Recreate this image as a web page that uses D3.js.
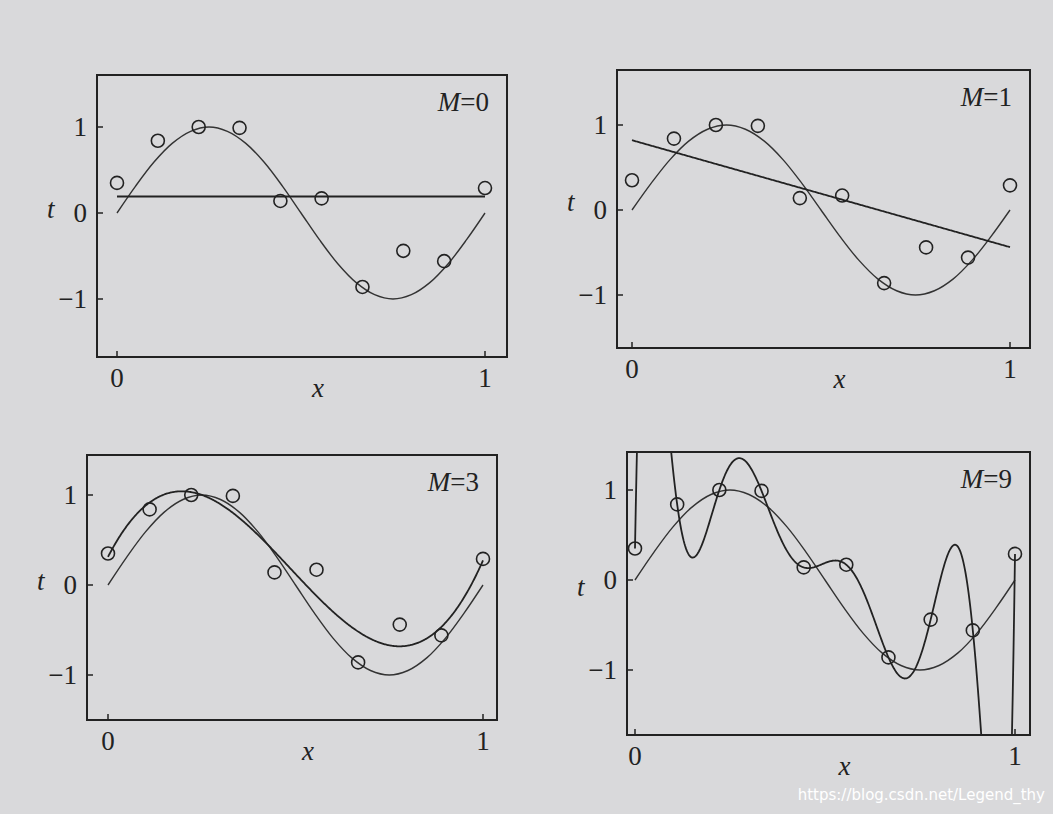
<!DOCTYPE html><html><head><meta charset="utf-8">
<script src="https://cdn.jsdelivr.net/npm/d3@7"></script>
<style>body{margin:0;background:#d9d9db}</style></head><body>
<svg id="c" width="1053" height="814"></svg>
<script>
const dataX=[0,0.111,0.222,0.333,0.444,0.556,0.667,0.778,0.889,1];
const dataT=[0.35,0.84,1.0,0.99,0.14,0.17,-0.86,-0.44,-0.56,0.29];
const trueX=[0,0.05,0.1,0.15,0.2,0.25,0.3,0.35,0.4,0.45,0.5,0.55,0.6,0.65,0.7,0.75,0.8,0.85,0.9,0.95,1];
const trueT=[0,0.31,0.59,0.81,0.95,1,0.95,0.81,0.59,0.31,0,-0.31,-0.59,-0.81,-0.95,-1,-0.95,-0.81,-0.59,-0.31,0];
const orders=[0,1,3,9];
const tickT=[1,0,-1], tickX=[0,1];
const panels=[{l:97,t:75,r:507,b:357,x0:117,x1:485,y1:127,y0:213},
{l:617,t:70,r:1030,b:348,x0:632,x1:1010,y1:125,y0:210},
{l:87,t:455,r:497,b:720,x0:108,x1:483,y1:495,y0:585},
{l:627,t:452,r:1030,b:735,x0:635,x1:1015,y1:490,y0:580}];
function polyfit(M){
 const n=M+1,A=[],B=[];
 for(let i=0;i<n;i++){A.push([]);B.push(0);for(let j=0;j<n;j++){let s=0;dataX.forEach(x=>s+=Math.pow(x,i+j));A[i].push(s);}dataX.forEach((x,k)=>B[i]+=Math.pow(x,i)*dataT[k]);}
 for(let i=0;i<n;i++){let p=i;for(let k=i+1;k<n;k++)if(Math.abs(A[k][i])>Math.abs(A[p][i]))p=k;[A[i],A[p]]=[A[p],A[i]];[B[i],B[p]]=[B[p],B[i]];
  for(let k=i+1;k<n;k++){const f=A[k][i]/A[i][i];for(let j=i;j<n;j++)A[k][j]-=f*A[i][j];B[k]-=f*B[i];}}
 const w=Array(n).fill(0);for(let i=n-1;i>=0;i--){let s=B[i];for(let j=i+1;j<n;j++)s-=A[i][j]*w[j];w[i]=s/A[i][i];}
 return x=>w.reduce((a,c,i)=>a+c*Math.pow(x,i),0);
}
function lagrange(x){let s=0;for(let i=0;i<10;i++){let p=dataT[i];for(let j=0;j<10;j++)if(j!==i)p*=(x-dataX[j])/(dataX[i]-dataX[j]);s+=p;}return s;}
const svg=d3.select("#c");
const serif="'Liberation Serif','Times New Roman',serif";
panels.forEach((P,pi)=>{
 const M=orders[pi];
 const xs=d3.scaleLinear().domain([0,1]).range([P.x0,P.x1]);
 const ys=d3.scaleLinear().domain([0,1]).range([P.y0,P.y1]);
 const g=svg.append("g");
 const id="clip"+pi;
 g.append("clipPath").attr("id",id).append("rect").attr("x",P.l).attr("y",P.t).attr("width",P.r-P.l).attr("height",P.b-P.t);
 const gc=g.append("g").attr("clip-path",`url(#${id})`);
 const line=d3.line().x(d=>xs(d[0])).y(d=>ys(d[1])).curve(d3.curveCatmullRom);
 gc.append("path").attr("d",line(trueX.map((x,i)=>[x,trueT[i]]))).attr("fill","none").attr("stroke","#333").attr("stroke-width",1.4);
 const f=M===9?lagrange:polyfit(M);
 const pts=d3.range(0,1.0001,0.002).map(x=>[x,Math.max(-20,Math.min(20,f(x)))]);
 gc.append("path").attr("d",d3.line().x(d=>xs(d[0])).y(d=>ys(d[1]))(pts)).attr("fill","none").attr("stroke","#222").attr("stroke-width",1.8);
 g.selectAll("circle").data(dataX).join("circle").attr("cx",d=>xs(d)).attr("cy",(d,i)=>ys(dataT[i])).attr("r",6.5).attr("fill","none").attr("stroke","#222").attr("stroke-width",1.6);
 g.append("rect").attr("x",P.l).attr("y",P.t).attr("width",P.r-P.l).attr("height",P.b-P.t).attr("fill","none").attr("stroke","#222").attr("stroke-width",2);
 tickT.forEach(v=>{g.append("line").attr("x1",P.l).attr("x2",P.l+6).attr("y1",ys(v)).attr("y2",ys(v)).attr("stroke","#222").attr("stroke-width",1.5);
  g.append("text").attr("x",P.l-10).attr("y",ys(v)+9).attr("text-anchor","end").attr("font-family",serif).attr("font-size",27).attr("fill","#222").text(v<0?"−1":v);});
 tickX.forEach(v=>{g.append("line").attr("x1",xs(v)).attr("x2",xs(v)).attr("y1",P.b).attr("y2",P.b-6).attr("stroke","#222").attr("stroke-width",1.5);
  g.append("text").attr("x",xs(v)).attr("y",P.b+30).attr("text-anchor","middle").attr("font-family",serif).attr("font-size",27).attr("fill","#222").text(v);});
 g.append("text").attr("x",P.l-50).attr("y",(P.t+P.b)/2+2).attr("font-family",serif).attr("font-style","italic").attr("font-size",27).attr("fill","#222").text("t");
 g.append("text").attr("x",(P.l+P.r)/2+10).attr("y",P.b+40).attr("font-family",serif).attr("font-style","italic").attr("font-size",27).attr("fill","#222").text("x");
 const tx=g.append("text").attr("x",P.r-18).attr("y",P.t+36).attr("text-anchor","end").attr("font-family",serif).attr("font-size",27).attr("fill","#222");
 tx.append("tspan").attr("font-style","italic").text("M");tx.append("tspan").text("="+M);
});
svg.append("text").attr("x",1045).attr("y",800).attr("text-anchor","end").attr("font-family","'DejaVu Sans',sans-serif").attr("font-size",15).attr("fill","#fff").text("https://blog.csdn.net/Legend_thy");
</script></body></html>
